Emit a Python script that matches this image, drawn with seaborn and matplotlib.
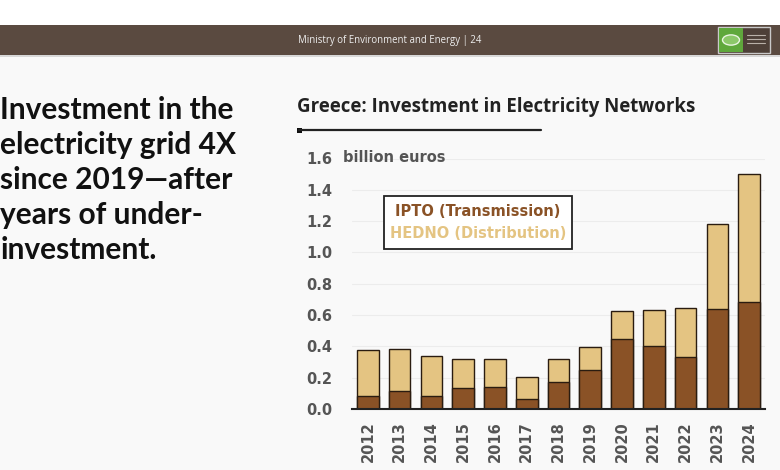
import matplotlib
matplotlib.use("Agg")
import matplotlib.pyplot as plt
from matplotlib.patches import Rectangle, Circle
from matplotlib.lines import Line2D
import numpy as np
import pandas as pd
import seaborn as sns

years = ["2012", "2013", "2014", "2015", "2016", "2017", "2018",
         "2019", "2020", "2021", "2022", "2023", "2024"]
ipto = [0.08, 0.115, 0.085, 0.135, 0.14, 0.065, 0.175, 0.25, 0.45, 0.405, 0.33, 0.64, 0.685]
total = [0.38, 0.385, 0.34, 0.32, 0.32, 0.205, 0.32, 0.395, 0.625, 0.63, 0.645, 1.18, 1.50]
hedno = [t - i for t, i in zip(total, ipto)]
yticks = [0.0, 0.2, 0.4, 0.6, 0.8, 1.0, 1.2, 1.4, 1.6]

df = pd.DataFrame({"year": years, "IPTO": ipto, "HEDNO": hedno})
df["total"] = df["IPTO"] + df["HEDNO"]

sns.set_theme(style="white")
plt.rcParams["font.family"] = ["DejaVu Sans"]

W, H = 780, 470
fig = plt.figure(figsize=(7.8, 4.7), dpi=100)
fig.patch.set_facecolor("#f9f9f9")

def fx(px):
    return px / W

def fy(py):
    return 1 - py / H

# top white strip and header band
fig.add_artist(Rectangle((0, fy(25)), 1, 25 / H, transform=fig.transFigure,
                         facecolor="white", edgecolor="none"))
fig.add_artist(Rectangle((0, fy(55)), 1, 30 / H, transform=fig.transFigure,
                         facecolor="#5a4a40", edgecolor="none"))
fig.add_artist(Rectangle((0, fy(57)), 1, 2 / H, transform=fig.transFigure,
                         facecolor="#d8d8d8", edgecolor="none"))
fig.text(fx(390), fy(41), "Ministry of Environment and Energy | 24", color="#eeeeee",
         fontsize=6.9, ha="center", va="center", family=["Open Sans", "DejaVu Sans"])
# logo
fig.add_artist(Rectangle((fx(718), fy(53)), 52 / W, 26 / H, transform=fig.transFigure,
                         facecolor="#4e4038", edgecolor="#c9c9c9", linewidth=1))
fig.add_artist(Rectangle((fx(719), fy(52)), 24 / W, 24 / H, transform=fig.transFigure,
                         facecolor="#5fa83c", edgecolor="none"))
fig.add_artist(Circle((fx(731), fy(40)), 8.5 / W, transform=fig.transFigure,
                      facecolor="#8cc86a", edgecolor="#e8f4e0", linewidth=1))
for k, yy in enumerate([35, 39, 43]):
    fig.add_artist(Line2D([fx(747), fx(765)], [fy(yy), fy(yy)], transform=fig.transFigure,
                          color="#b9b0a8", linewidth=0.8))

# left big text
left_lines = ["Investment in the", "electricity grid 4X", "since 2019\u2014after",
              "years of under-", "investment."]
for k, line in enumerate(left_lines):
    fig.text(fx(0.5), fy(110 + k * 35), line, fontsize=21.5, fontweight="bold",
             color="#111111", ha="left", va="center", family=["Lato", "DejaVu Sans"])

# chart title and rule
fig.text(fx(297), fy(107), "Greece: Investment in Electricity Networks", fontsize=13.4,
         fontweight="bold", color="#222222", ha="left", va="center",
         family=["Open Sans", "DejaVu Sans"])
fig.add_artist(Line2D([fx(299), fx(541)], [fy(130), fy(130)], transform=fig.transFigure,
                      color="#222222", linewidth=1.6))
fig.add_artist(Rectangle((fx(297), fy(132.5)), 5 / W, 5 / H, transform=fig.transFigure,
                         facecolor="#111111", edgecolor="none"))

# axes
ax = fig.add_axes([fx(352), fy(409), (765 - 352) / W, (409 - 158.5) / H])
ax.set_facecolor("#f9f9f9")
tan = "#e4c482"
brown = "#8a5226"
edge = "#2a1c10"
sns.barplot(data=df, x="year", y="total", color=tan, edgecolor=edge, linewidth=1,
            width=0.68, saturation=1, ax=ax, zorder=3)
sns.barplot(data=df, x="year", y="IPTO", color=brown, edgecolor=edge, linewidth=1,
            width=0.68, saturation=1, ax=ax, zorder=4)
ax.set_xlim(-0.5, len(years) - 0.5)
ax.set_ylim(0, 1.6)
ax.set_yticks(yticks)
ax.set_yticklabels([f"{v:.1f}" for v in yticks], fontsize=10.5, fontweight="bold", color="#555555")
ax.set_xticks(range(len(years)))
ax.set_xticklabels(years, rotation=90, fontsize=10.5, fontweight="bold", color="#555555")
ax.set_xticks(np.arange(-0.5, len(years), 1.0), minor=True)
ax.tick_params(axis="x", which="major", length=0, pad=9)
ax.tick_params(axis="x", which="minor", length=5, width=1.3, color="#222222", direction="out")
ax.tick_params(axis="y", length=0, pad=14)
ax.set_xlabel("")
ax.set_ylabel("")
ax.grid(axis="y", color="#ececec", linewidth=0.8, zorder=0)
for s in ["top", "right", "left"]:
    ax.spines[s].set_visible(False)
ax.spines["bottom"].set_color("#222222")
ax.spines["bottom"].set_linewidth(1.5)
ax.spines["bottom"].set_zorder(5)

fig.text(fx(343), fy(157), "billion euros", fontsize=10.5, fontweight="bold",
         color="#555555", ha="left", va="center")

# legend box
fig.add_artist(Rectangle((fx(384), fy(249)), (572 - 384) / W, (249 - 196) / H,
                         transform=fig.transFigure, facecolor="white",
                         edgecolor="#222222", linewidth=1.3))
fig.text(fx(478), fy(212), "IPTO (Transmission)", fontsize=10.5, fontweight="bold",
         color=brown, ha="center", va="center")
fig.text(fx(478), fy(233), "HEDNO (Distribution)", fontsize=10.5, fontweight="bold",
         color=tan, ha="center", va="center")

fig.savefig("out.png", dpi=100, facecolor=fig.get_facecolor())
